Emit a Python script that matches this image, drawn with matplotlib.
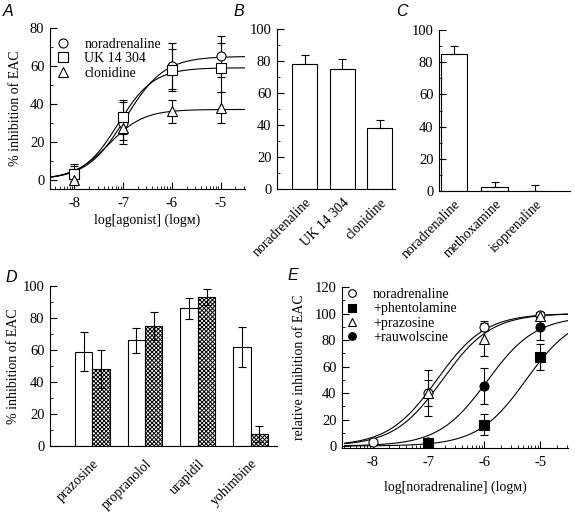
import numpy as np
import matplotlib.pyplot as plt
from matplotlib.ticker import MultipleLocator, FixedLocator
from matplotlib.transforms import ScaledTranslation

plt.rcParams.update({
    "font.family": ["Liberation Serif", "DejaVu Serif"],
    "font.size": 10,
    "xtick.labelsize": 10.5,
    "ytick.labelsize": 10.5,
    "axes.unicode_minus": False,
    "axes.linewidth": 0.8,
    "lines.linewidth": 0.8,
    "hatch.linewidth": 0.7,
})

# -------- DATA --------
# A: concentration-response to agonists
log_agonist = [-8, -7, -6, -5]
na_A = [3, 30, 60, 65]
na_A_err = [5, 11, 12, 11]
uk_A = [3, 33, 58, 59]
uk_A_err = [4, 9, 11, 13]
clon_A = [0, 27, 36, 38]
clon_A_err = [3, 6, 6, 8]
top_A = [65, 59, 37]            # fitted maxima
logec50_A = [-6.95, -7.1, -7.3]  # fitted log EC50
slope_A = [1.1, 1.2, 1.2]

# B: maximal effects of agonists
agonists_B = ["noradrenaline", "UK 14 304", "clonidine"]
mean_B = [78, 75, 38]
err_B = [6, 6.5, 5]

# C
agonists_C = ["noradrenaline", "methoxamine", "isoprenaline"]
mean_C = [85, 2.5, 0]
err_C = [5, 3, 4]

# D: antagonists, open vs hatched
antag_D = ["prazosine", "propranolol", "urapidil", "yohimbine"]
open_D = [59, 66, 86, 62]
open_D_err = [12, 8, 6.5, 12.5]
hatch_D = [48, 75, 93, 7.5]
hatch_D_err = [12, 9, 5, 5]

# E: noradrenaline curves with antagonists
na_E_x = [-8, -7, -6, -5]
na_E = [3, 40, 90, 99]
na_E_err = [2, 17, 3, 2]
phent_E_x = [-7, -6, -5]
phent_E = [2, 16, 67]
phent_E_err = [1, 8, 10]
praz_E_x = [-7, -6, -5]
praz_E = [40, 81, 98]
praz_E_err = [10, 13, 3]
rauw_E_x = [-7, -6, -5]
rauw_E = [3, 45, 90]
rauw_E_err = [1, 13.5, 10]
top_E = [100, 100, 100, 98]
logec50_E = [-6.85, -5.25, -6.75, -5.95]
slope_E = [1.0, 1.0, 1.0, 1.0]
# ----------------------


def hill(x, top, logec50, slope):
    return top / (1 + 10 ** ((logec50 - x) * slope))


def log_minor(lo, hi):
    ticks = []
    for d in range(int(np.floor(lo)), int(np.ceil(hi)) + 1):
        for k in range(2, 10):
            t = d + np.log10(k)
            if lo < t < hi:
                ticks.append(t)
    return ticks


def style_axes(ax):
    for s in ["top", "right"]:
        ax.spines[s].set_visible(False)
    ax.tick_params(which="both", direction="in")
    ax.tick_params(which="major", length=5, pad=4)
    ax.tick_params(which="minor", length=2.5)


def panel_letter(fig, x, y, s):
    fig.text(x / 575, 1 - y / 519, s, family="Liberation Sans", style="italic",
             fontsize=11.5, va="center", ha="left")


def category_labels(ax, labels, dx_px):
    ax.set_xticklabels(labels, rotation=45, ha="right", va="top",
                       rotation_mode="anchor", fontsize=10)
    shift = ScaledTranslation(dx_px / 100, 0, fig.dpi_scale_trans)
    for lab in ax.get_xticklabels():
        lab.set_transform(lab.get_transform() + shift)


fig = plt.figure(figsize=(5.75, 5.19), dpi=100)


def ax_px(l, t, r, b):
    return fig.add_axes([l / 575, 1 - b / 519, (r - l) / 575, (b - t) / 519])


mk = dict(markersize=6.5, markeredgewidth=0.8, color="black", linestyle="none")
eb = dict(fmt="none", ecolor="black", elinewidth=0.8, capsize=3, capthick=0.8)

# ---- A ----
axA = ax_px(50, 28, 245, 189)
style_axes(axA)
xs = np.linspace(-8.5, -4.5, 300)
for top, ec, sl in zip(top_A, logec50_A, slope_A):
    axA.plot(xs, hill(xs, top, ec, sl), color="black", lw=0.8)
for y, e in [(na_A, na_A_err), (uk_A, uk_A_err), (clon_A, clon_A_err)]:
    axA.errorbar(log_agonist, y, yerr=e, **eb)
axA.plot(log_agonist, na_A, marker="o", mfc="white", label="noradrenaline", **mk)
axA.plot(log_agonist, uk_A, marker="s", mfc="white", label="UK 14 304", **mk)
axA.plot(log_agonist, clon_A, marker="^", mfc="white", label="clonidine", **mk)
axA.set_xlim(-8.5, -4.5)
axA.set_ylim(-5, 80)
axA.set_xticks([-8, -7, -6, -5])
axA.xaxis.set_minor_locator(FixedLocator(log_minor(-8.5, -4.5)))
axA.yaxis.set_major_locator(MultipleLocator(20))
axA.yaxis.set_minor_locator(MultipleLocator(10))
axA.tick_params(axis="x", pad=6)
axA.set_xlabel("log[agonist] (logᴍ)", labelpad=2)
axA.set_ylabel("% inhibition of EAC", labelpad=6)
axA.legend(loc="upper left", bbox_to_anchor=(-0.012, 0.99), frameon=False,
           handlelength=1.0, handletextpad=1.05, labelspacing=0.1,
           borderaxespad=0.2, fontsize=10)

# ---- B ----
axB = ax_px(277, 29, 395, 189)
style_axes(axB)
xb = np.arange(len(agonists_B))
axB.bar(xb, mean_B, width=0.66, color="white", edgecolor="black", lw=0.8)
axB.errorbar(xb, mean_B, yerr=[np.zeros(len(err_B)), err_B], **eb)
axB.set_xlim(-0.73, 2.4)
axB.set_ylim(0, 100)
axB.yaxis.set_major_locator(MultipleLocator(20))
axB.yaxis.set_minor_locator(MultipleLocator(10))
axB.set_xticks(xb)
category_labels(axB, agonists_B, 6)
axB.tick_params(axis="x", length=0, pad=5)

# ---- C ----
axC = ax_px(439, 30, 570, 191)
style_axes(axC)
xc = np.arange(len(agonists_C))
axC.bar(xc, mean_C, width=0.66, color="white", edgecolor="black", lw=0.8)
axC.errorbar(xc, mean_C, yerr=[np.zeros(len(err_C)), err_C], **eb)
axC.set_xlim(-0.37, 2.85)
axC.set_ylim(0, 100)
axC.yaxis.set_major_locator(MultipleLocator(20))
axC.yaxis.set_minor_locator(MultipleLocator(10))
axC.set_xticks(xc)
category_labels(axC, agonists_C, 8)
axC.tick_params(axis="x", length=0, pad=5)

# ---- D ----
axD = ax_px(50, 286, 277, 446)
style_axes(axD)
xd = np.arange(len(antag_D))
w = 0.33
axD.bar(xd - w / 2, open_D, width=w, color="white", edgecolor="black", lw=0.8)
axD.bar(xd + w / 2, hatch_D, width=w, color="white", edgecolor="black", lw=0.8,
        hatch="xxxxxxxx")
axD.errorbar(xd - w / 2, open_D, yerr=open_D_err, **eb)
axD.errorbar(xd + w / 2, hatch_D, yerr=hatch_D_err, **eb)
axD.set_xlim(-0.8, 3.5)
axD.set_ylim(0, 100)
axD.yaxis.set_major_locator(MultipleLocator(20))
axD.yaxis.set_minor_locator(MultipleLocator(10))
axD.set_xticks(xd)
category_labels(axD, antag_D, 8)
axD.tick_params(axis="x", length=0, pad=8)
axD.set_ylabel("% inhibition of EAC", labelpad=2)

# ---- E ----
axE = ax_px(342, 287, 568, 448)
style_axes(axE)
for top, ec, sl in zip(top_E, logec50_E, slope_E):
    axE.plot(xs, hill(xs, top, ec, sl), color="black", lw=0.8)
for x, y, e in [(na_E_x, na_E, na_E_err), (phent_E_x, phent_E, phent_E_err),
                (praz_E_x, praz_E, praz_E_err), (rauw_E_x, rauw_E, rauw_E_err)]:
    axE.errorbar(x, y, yerr=e, **eb)
axE.plot(na_E_x, na_E, marker="o", mfc="white", label="noradrenaline", **mk)
axE.plot(phent_E_x, phent_E, marker="s", mfc="black", label="+phentolamine", **mk)
axE.plot(praz_E_x, praz_E, marker="^", mfc="white", label="+prazosine", **mk)
axE.plot(rauw_E_x, rauw_E, marker="o", mfc="black", label="+rauwolscine", **mk)
axE.set_xlim(-8.55, -4.5)
axE.set_ylim(-1.5, 120)
axE.set_xticks([-8, -7, -6, -5])
axE.xaxis.set_minor_locator(FixedLocator(log_minor(-8.55, -4.5)))
axE.yaxis.set_major_locator(MultipleLocator(20))
axE.yaxis.set_minor_locator(MultipleLocator(10))
axE.tick_params(axis="x", pad=6)
axE.set_xlabel("log[noradrenaline] (logᴍ)", labelpad=8)
axE.set_ylabel("relative inhibition of EAC", labelpad=6)
axE.legend(loc="upper left", bbox_to_anchor=(-0.022, 1.045), frameon=False,
           handlelength=1.0, handletextpad=1.0, labelspacing=0.1,
           borderaxespad=0.2, fontsize=10, markerscale=0.85)

panel_letter(fig, 3, 11, "A")
panel_letter(fig, 234, 11, "B")
panel_letter(fig, 396, 11, "C")
panel_letter(fig, 5, 277, "D")
panel_letter(fig, 288, 276, "E")

fig.savefig("out.png", dpi=100)
